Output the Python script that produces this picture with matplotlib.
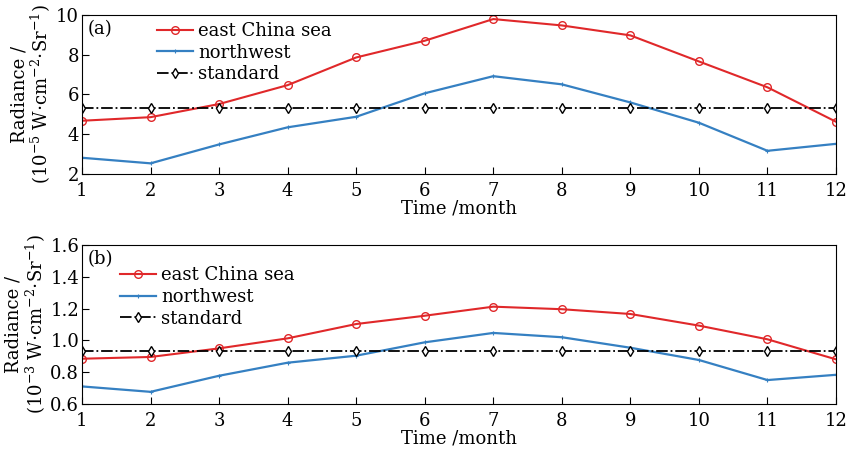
import numpy as np
import matplotlib
matplotlib.use('Agg')
import matplotlib.pyplot as plt

plt.rcParams['font.family'] = 'DejaVu Serif'
plt.rcParams['mathtext.fontset'] = 'dejavuserif'

months = np.arange(1, 13)

# panel (a), 10^-5 W cm^-2 Sr^-1
east_a = [4.68, 4.86, 5.52, 6.47, 7.86, 8.70, 9.79, 9.47, 8.97, 7.66, 6.36, 4.63]
north_a = [2.82, 2.54, 3.49, 4.35, 4.88, 6.06, 6.92, 6.51, 5.60, 4.58, 3.17, 3.52]
std_a = [5.33] * 12

# panel (b), 10^-3 W cm^-2 Sr^-1
east_b = [0.885, 0.896, 0.950, 1.013, 1.103, 1.155, 1.212, 1.196, 1.166, 1.093, 1.007, 0.881]
north_b = [0.711, 0.677, 0.778, 0.860, 0.904, 0.988, 1.047, 1.020, 0.954, 0.877, 0.751, 0.784]
std_b = [0.935] * 12

red = '#e0282a'
blue = '#3580c2'

fig = plt.figure(figsize=(8.53, 4.51), dpi=100)
ax1 = fig.add_axes([0.0961, 0.614, 0.884, 0.353])
ax2 = fig.add_axes([0.0961, 0.104, 0.884, 0.353])

def panel(ax, east, north, std, ylim, yticks, yfmt, exp, tag, leg_xy):
    ax.plot(months, east, color=red, lw=1.5, marker='o', ms=5.5, mfc='none', mec=red, mew=1.0,
            label='east China sea')
    ax.plot(months, north, color=blue, lw=1.6, marker='+', ms=3, mew=0.8, label='northwest')
    ax.plot(months, std, color='black', lw=1.3, ls='-.', marker='d', ms=5, mfc='white', mec='black',
            mew=1.0, label='standard')
    ax.set_xlim(1, 12)
    ax.set_ylim(*ylim)
    ax.set_xticks(months)
    ax.set_yticks(yticks)
    ax.set_yticklabels([yfmt % v for v in yticks])
    ax.tick_params(direction='in', length=5, labelsize=13, top=False, right=False)
    ax.tick_params(axis='x', pad=6)
    ax.tick_params(axis='y', pad=2)
    ax.set_xlabel('Time /month', fontsize=13, labelpad=-1)
    ax.set_ylabel('Radiance /\n' + r'(10$^{%s}$ W$\cdot$cm$^{-2}$$\cdot$Sr$^{-1}$)' % exp,
                  fontsize=13, labelpad=2, linespacing=1.05)
    ax.text(0.008, 0.965, tag, transform=ax.transAxes, fontsize=13, va='top')
    ax.legend(loc='upper left', bbox_to_anchor=leg_xy, frameon=False, fontsize=13,
              handlelength=2.0, handletextpad=0.3, labelspacing=0.2, borderpad=0,
              borderaxespad=0)

panel(ax1, east_a, north_a, std_a, (2, 10), [2, 4, 6, 8, 10], '%d', '-5', '(a)', (0.099, 0.955))
panel(ax2, east_b, north_b, std_b, (0.6, 1.6), [0.6, 0.8, 1.0, 1.2, 1.4, 1.6], '%.1f', '-3', '(b)',
      (0.050, 0.865))

fig.savefig('out.png', dpi=100)
